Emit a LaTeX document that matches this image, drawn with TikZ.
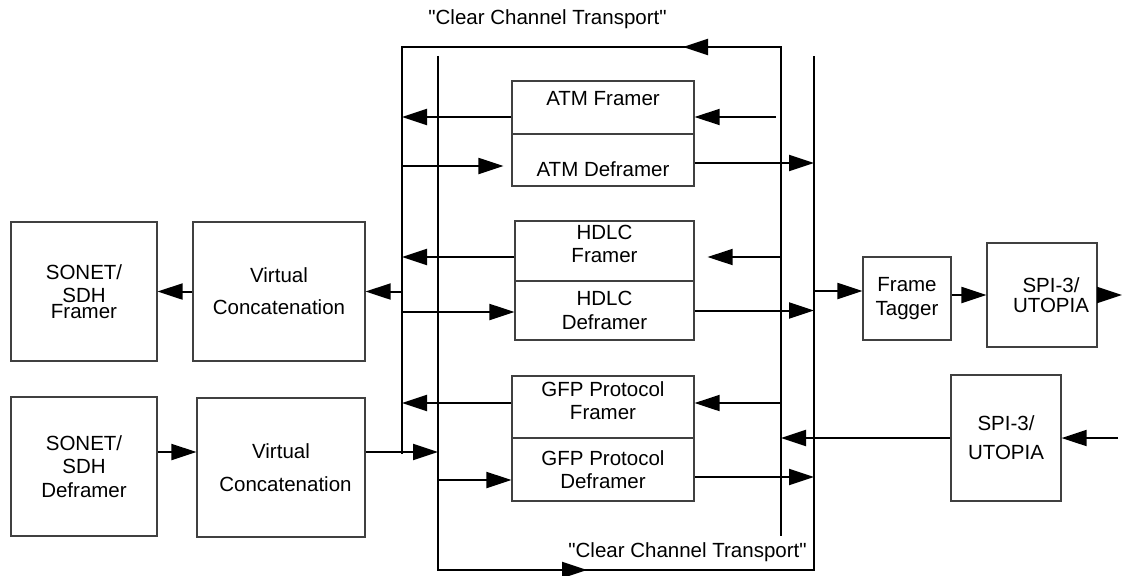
\documentclass[tikz,border=0pt]{standalone}
\usepackage{fontspec}
\setmainfont{Liberation Sans}
\usetikzlibrary{arrows.meta}

\tikzset{
  blk/.style={draw=black!75, line width=1.2pt, inner sep=0pt, align=center,
    font=\fontsize{20.5}{23.5}\selectfont},
  flow/.style={line width=2pt, -{Triangle[length=25pt,width=16pt]}},
  bus/.style={line width=2pt},
  ttl/.style={inner sep=0pt, font=\fontsize{20.5}{23.5}\selectfont},
}

\begin{document}
\begin{tikzpicture}[x=1pt, y=-1pt]
\useasboundingbox (0,0) rectangle (1123,575);

% SONET/SDH side
\node[blk, minimum width=146, minimum height=139] (sonf) at (84,291.5) {SONET/\\SDH\\[-8pt]Framer};
\node[blk, minimum width=172, minimum height=139] (vcf) at (279,291.5) {Virtual\\[8.5pt]Concatenation};
\node[blk, minimum width=146, minimum height=139] (sond) at (84,466.5) {SONET/\\SDH\\Deframer};
\node[blk, minimum width=168, minimum height=139] (vcd) at (281,467.5) {Virtual\\[9.5pt]\hspace*{9pt}Concatenation};

% framers / deframers
\node[blk, minimum width=182, minimum height=53, text depth=18pt] (atmf) at (603,107.5) {ATM Framer};
\node[blk, minimum width=182, minimum height=52, text height=33pt] (atmd) at (603,160) {ATM Deframer};
\node[blk, minimum width=179, minimum height=60, text depth=14pt] (hdlcf) at (604.5,251) {HDLC\\Framer};
\node[blk, minimum width=179, minimum height=59] (hdlcd) at (604.5,310.5) {HDLC\\Deframer};
\node[blk, minimum width=182, minimum height=62, text depth=13pt] (gfpf) at (603,407) {GFP Protocol\\Framer};
\node[blk, minimum width=182, minimum height=63] (gfpd) at (603,469.5) {GFP Protocol\\Deframer};

% system side
\node[blk, minimum width=88, minimum height=83] (tag) at (907,298.5) {Frame\\Tagger};
\node[blk, minimum width=110, minimum height=104] (spit) at (1042,295) {\hspace*{18pt}SPI-3/\\[-3.5pt]\hspace*{18pt}UTOPIA};
\node[blk, minimum width=110, minimum height=126] (spib) at (1006,438) {SPI-3/\\[5.5pt]UTOPIA};

\node[ttl] (cctop) at (547.5,19.5) {\textquotedbl Clear Channel Transport\textquotedbl};
\node[ttl] (ccbot) at (687.5,552.5) {\textquotedbl Clear Channel Transport\textquotedbl};

% buses
\coordinate (l1t) at (402,47);  \coordinate (l1b) at (402,454);
\coordinate (l2t) at (438,56);  \coordinate (l2b) at (438,570);
\coordinate (r1t) at (781,47);  \coordinate (r1b) at (781,536);
\coordinate (r2t) at (814,56);  \coordinate (r2b) at (814,570);
\coordinate (atmin) at (776,117);
\coordinate (out) at (1122,295);
\coordinate (in) at (1118,438);

\draw[bus] (l1b) -- (l1t) -- (r1t) -- (r1b);
\draw[bus] (l2t) -- (l2b) -- (r2b) -- (r2t);
\draw[flow] (r1t) -- (683,47);
\draw[flow] (l2b) -- (587,570);

% receive direction
\draw[flow] (vcf.west) -- (sonf.east);
\draw[flow] (vcf.east -| l1t) -- (vcf.east);
\draw[flow] ([yshift=-9.5pt]atmf.west) -- ([yshift=-9.5pt]atmf.west -| l1t);
\draw[flow] (atmin) -- ([yshift=-9.5pt]atmf.east);
\draw[flow] ([yshift=-6pt]hdlcf.west) -- ([yshift=-6pt]hdlcf.west -| l1t);
\draw[flow] ([yshift=-6pt]hdlcf.east -| r1t) -- ([xshift=13pt,yshift=-6pt]hdlcf.east);
\draw[flow] ([yshift=4pt]gfpf.west) -- ([yshift=4pt]gfpf.west -| l1t);
\draw[flow] ([yshift=4pt]gfpf.east -| r1t) -- ([yshift=4pt]gfpf.east);

% transmit direction
\draw[flow] ([yshift=14.5pt]sond.east) -- ([yshift=14.5pt]sond.east -| vcd.west);
\draw[flow] ([yshift=15.5pt]vcd.east) -- ([yshift=15.5pt]vcd.east -| l2t);
\draw[flow] ([yshift=-6pt]atmd.west -| l1t) -- ([xshift=-8pt,yshift=-6pt]atmd.west);
\draw[flow] ([yshift=-3pt]atmd.east) -- ([yshift=-3pt]atmd.east -| r2t);
\draw[flow] ([yshift=-1.5pt]hdlcd.west -| l1t) -- ([yshift=-1.5pt]hdlcd.west);
\draw[flow] (hdlcd.east) -- (hdlcd.east -| r2t);
\draw[flow] ([yshift=-10.5pt]gfpd.west -| l2t) -- ([yshift=-10.5pt]gfpd.west);
\draw[flow] ([yshift=-7.5pt]gfpd.east) -- ([yshift=-7.5pt]gfpd.east -| r2t);

% to / from the system side
\draw[flow] ([yshift=7.5pt]tag.west -| r2t) -- ([yshift=7.5pt]tag.west);
\draw[flow] (tag.east |- spit.west) -- (spit.west);
\draw[flow] (spit.east) -- (out);
\draw[flow] (in) -- (spib.east);
\draw[flow] (spib.west) -- (spib.west -| r1t);
\end{tikzpicture}
\end{document}
